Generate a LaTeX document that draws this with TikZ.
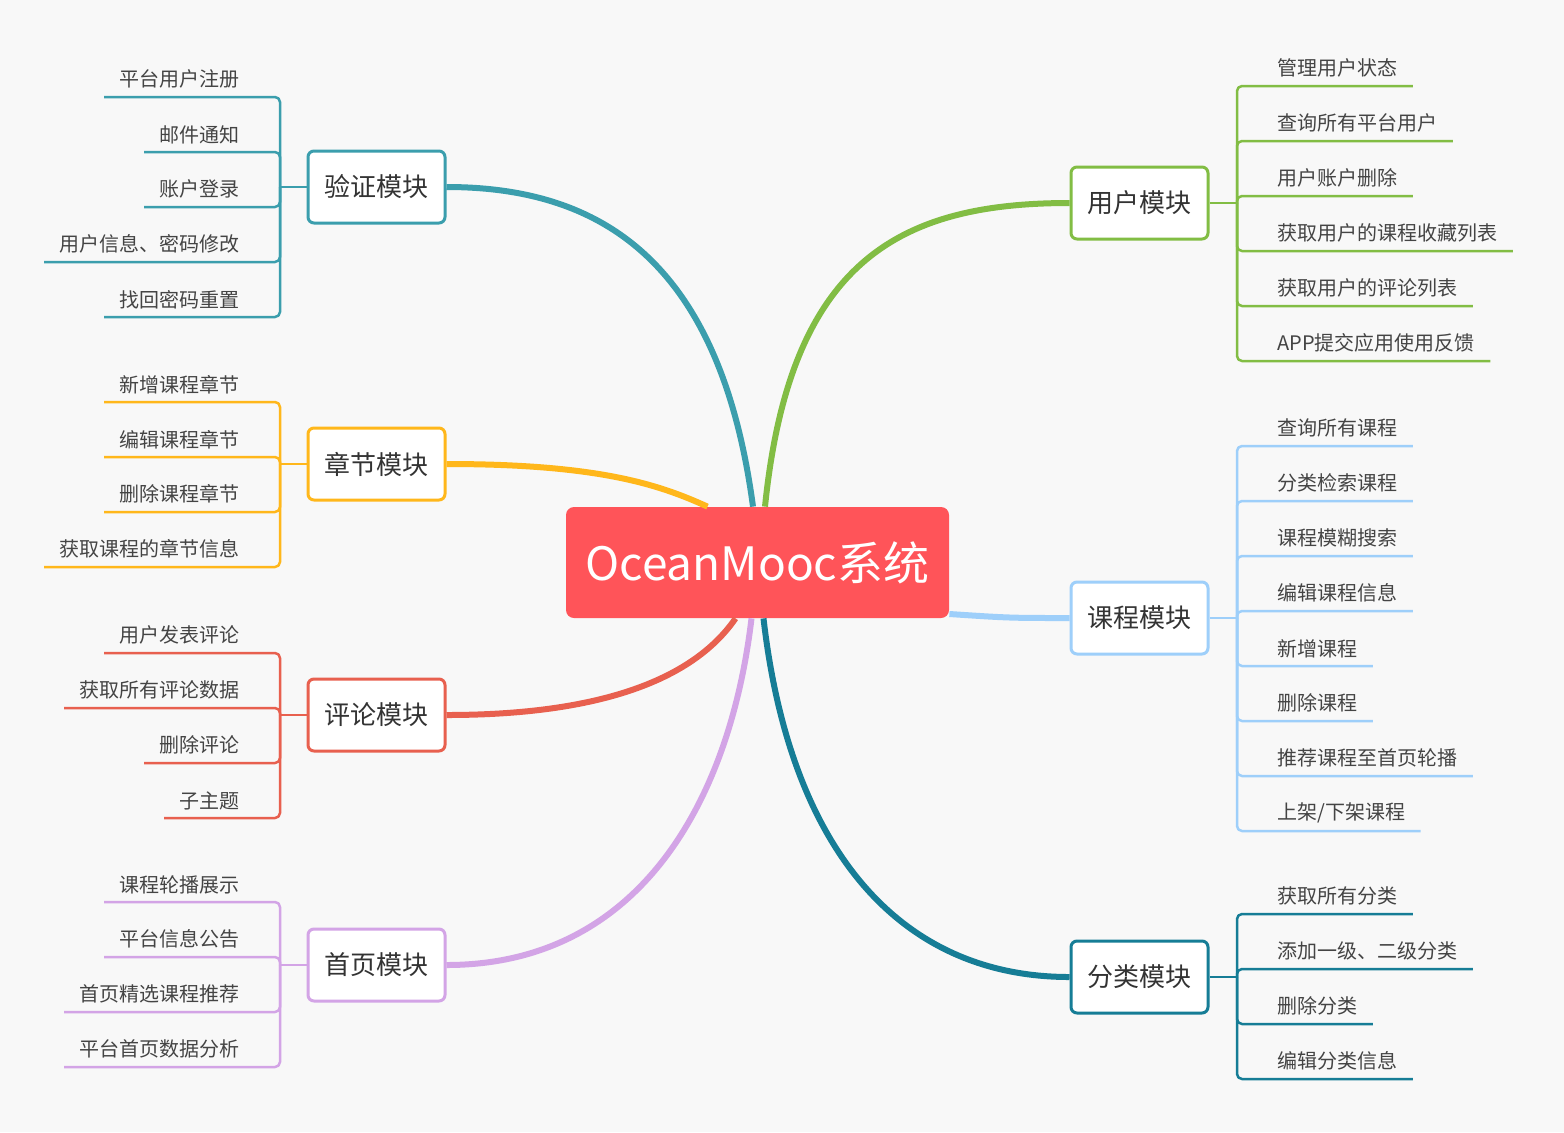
\documentclass[tikz,border=0pt]{standalone}
\usepackage{fontspec}
\setmainfont{Noto Sans CJK SC}
\definecolor{bgcol}{HTML}{F8F8F8}
\definecolor{rootcol}{HTML}{FF5459}
\definecolor{txtcol}{HTML}{444444}
\definecolor{modtxt}{HTML}{333333}
\definecolor{yzcol}{HTML}{3B9EAD}
\definecolor{zjcol}{HTML}{FFB71B}
\definecolor{plcol}{HTML}{E8604F}
\definecolor{sycol}{HTML}{D3A4E6}
\definecolor{yhcol}{HTML}{82BD44}
\definecolor{kccol}{HTML}{9ECFFA}
\definecolor{flcol}{HTML}{167D96}
\begin{document}
\begin{tikzpicture}[x=0.5pt,y=-0.5pt,line cap=butt,line join=round]
	\tikzset{leaf/.style={inner xsep=7.5pt,inner ysep=4pt,text=txtcol,
			font=\fontsize{10}{12}\selectfont},
		leafL/.style={leaf,anchor=south east},
		leafR/.style={leaf,anchor=south west},
		module/.style={draw,line width=1.5pt,fill=white,rounded corners=3pt,
			minimum width=68.5pt,minimum height=36pt,text=modtxt,
			font=\fontsize{13}{15}\selectfont},
		twig/.style={line width=1.25pt,rounded corners=2.5pt},
		limb/.style={line width=3pt}
	}
	\fill[bgcol] (0,0) rectangle (1564,1132);
	% root and modules
	\node[fill=rootcol,rounded corners=4pt,minimum width=191.5pt,minimum height=55.5pt,
		text=white,font=\fontsize{23}{27}\selectfont] (root) at (757.5,562.5) {OceanMooc系统};
	\node[module,draw=yzcol] (yz) at (376.5,187) {验证模块};
	\node[module,draw=zjcol] (zj) at (376.5,464) {章节模块};
	\node[module,draw=plcol] (pl) at (376.5,715) {评论模块};
	\node[module,draw=sycol] (sy) at (376.5,965) {首页模块};
	\node[module,draw=yhcol] (yh) at (1139.5,203) {用户模块};
	\node[module,draw=kccol] (kc) at (1139.5,618) {课程模块};
	\node[module,draw=flcol] (fl) at (1139.5,977) {分类模块};
	% main branches
	\draw[limb,yzcol] ([xshift=-2.25pt]root.north) .. controls (720,260) and (600,187) .. (yz.east);
	\draw[limb,zjcol] ([xshift=-25pt]root.north) .. controls (660,485) and (600,464) .. (zj.east);
	\draw[limb,plcol] ([xshift=-11pt]root.south) .. controls (700,670) and (620,715) .. (pl.east);
	\draw[limb,sycol] ([xshift=-3pt]root.south) .. controls (730,800) and (640,965) .. (sy.east);
	\draw[limb,yhcol] ([xshift=3.75pt]root.north) .. controls (790,260) and (900,203) .. (yh.west);
	\draw[limb,kccol] ([yshift=-25.75pt]root.east) .. controls (1010,618) .. (kc.west);
	\draw[limb,flcol] ([xshift=3pt]root.south) .. controls (790,850) and (900,977) .. (fl.west);
	% junctions
	\coordinate (yzj) at (280,187); \coordinate (zjj) at (280,464);
	\coordinate (plj) at (280,715); \coordinate (syj) at (280,965);
	\coordinate (yhj) at (1237,203); \coordinate (kcj) at (1237,618);
	\coordinate (flj) at (1237,977);
	\draw[twig,yzcol] (yz.west)--(yzj); \draw[twig,zjcol] (zj.west)--(zjj);
	\draw[twig,plcol] (pl.west)--(plj); \draw[twig,sycol] (sy.west)--(syj);
	\draw[twig,yhcol] (yh.east)--(yhj); \draw[twig,kccol] (kc.east)--(kcj);
	\draw[twig,flcol] (fl.east)--(flj);
	% leaves, left
	\foreach \t [count=\i] in {平台用户注册,邮件通知,账户登录,用户信息、密码修改,找回密码重置}{
		\node[leafL] (yz\i) at (255,{97+55*(\i-1)}) {\t};
		\draw[twig,yzcol] (yzj) |- (yz\i.south west);
	}
	\foreach \t [count=\i] in {新增课程章节,编辑课程章节,删除课程章节,获取课程的章节信息}{
		\node[leafL] (zj\i) at (255,{402+55*(\i-1)}) {\t};
		\draw[twig,zjcol] (zjj) |- (zj\i.south west);
	}
	\foreach \t [count=\i] in {用户发表评论,获取所有评论数据,删除评论,子主题}{
		\node[leafL] (pl\i) at (255,{653+55*(\i-1)}) {\t};
		\draw[twig,plcol] (plj) |- (pl\i.south west);
	}
	\foreach \t [count=\i] in {课程轮播展示,平台信息公告,首页精选课程推荐,平台首页数据分析}{
		\node[leafL] (sy\i) at (255,{902+55*(\i-1)}) {\t};
		\draw[twig,sycol] (syj) |- (sy\i.south west);
	}
	% leaves, right
	\foreach \t [count=\i] in {管理用户状态,查询所有平台用户,用户账户删除,获取用户的课程收藏列表,
		获取用户的评论列表,APP提交应用使用反馈}{
		\node[leafR] (yh\i) at (1262,{86+55*(\i-1)}) {\t};
		\draw[twig,yhcol] (yhj) |- (yh\i.south east);
	}
	\foreach \t [count=\i] in {查询所有课程,分类检索课程,课程模糊搜索,编辑课程信息,新增课程,
		删除课程,推荐课程至首页轮播,{上架/下架课程}}{
		\node[leafR] (kc\i) at (1262,{446+55*(\i-1)}) {\t};
		\draw[twig,kccol] (kcj) |- (kc\i.south east);
	}
	\foreach \t [count=\i] in {获取所有分类,添加一级、二级分类,删除分类,编辑分类信息}{
		\node[leafR] (fl\i) at (1262,{914+55*(\i-1)}) {\t};
		\draw[twig,flcol] (flj) |- (fl\i.south east);
	}
\end{tikzpicture}
\end{document}
